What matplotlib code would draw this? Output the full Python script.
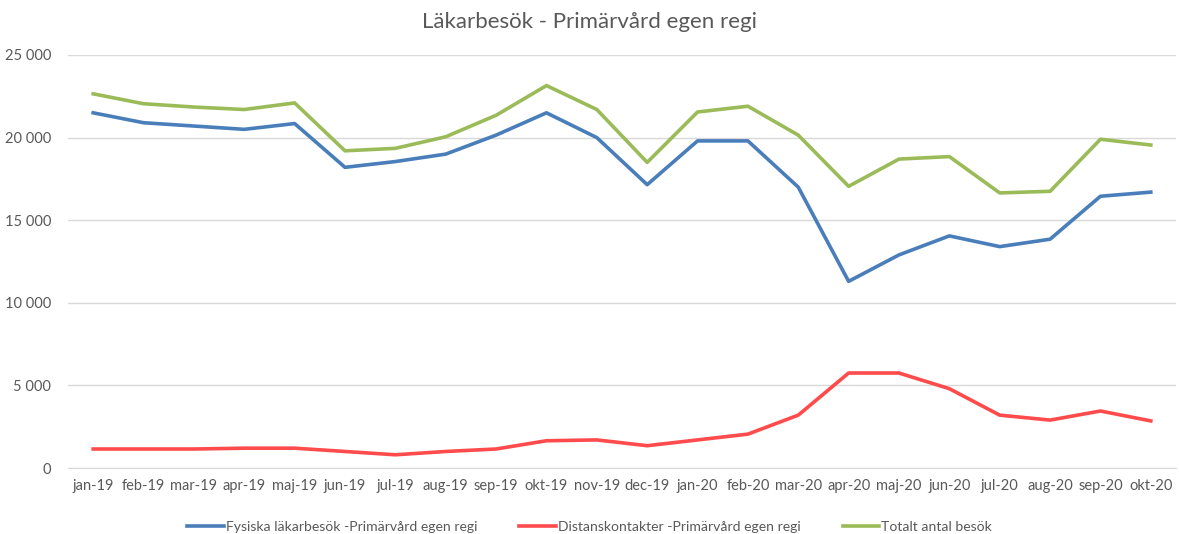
import matplotlib.pyplot as plt
from matplotlib.ticker import FuncFormatter

months = ["jan-19", "feb-19", "mar-19", "apr-19", "maj-19", "jun-19", "jul-19",
          "aug-19", "sep-19", "okt-19", "nov-19", "dec-19", "jan-20", "feb-20",
          "mar-20", "apr-20", "maj-20", "jun-20", "jul-20", "aug-20", "sep-20",
          "okt-20"]

fysiska = [21500, 20900, 20700, 20500, 20850, 18200, 18550, 19000, 20150, 21500,
           20000, 17150, 19800, 19800, 17000, 11300, 12900, 14050, 13400, 13850,
           16450, 16700]
distans = [1150, 1150, 1150, 1200, 1200, 1000, 800, 1000, 1150, 1650,
           1700, 1350, 1700, 2050, 3200, 5750, 5750, 4800, 3200, 2900,
           3450, 2850]
totalt = [22650, 22050, 21850, 21700, 22100, 19200, 19350, 20050, 21350, 23150,
          21700, 18500, 21550, 21900, 20150, 17050, 18700, 18850, 16650, 16750,
          19900, 19550]

plt.rcParams["font.family"] = ["Lato", "DejaVu Sans"]
grey = "#595959"

fig = plt.figure(figsize=(11.79, 5.34), dpi=100)
ax = fig.add_axes([68 / 1179, 1 - 468 / 534, (1176 - 68) / 1179, (468 - 55) / 534])

x = list(range(len(months)))
ax.plot(x, fysiska, color="#4A7EBB", lw=2.6, label="Fysiska läkarbesök -Primärvård egen regi")
ax.plot(x, distans, color="#FF4B4B", lw=2.6, label="Distanskontakter -Primärvård egen regi")
ax.plot(x, totalt, color="#9BBB59", lw=2.6, label="Totalt antal besök")

ax.set_xlim(-0.5, len(months) - 0.5)
ax.set_ylim(0, 25000)
ax.set_yticks(range(0, 25001, 5000))
ax.yaxis.set_major_formatter(FuncFormatter(lambda v, p: f"{int(v):,}".replace(",", " ")))
ax.set_xticks(x)
ax.set_xticklabels(months)
ax.grid(axis="y", color="#D9D9D9", lw=1)
ax.set_axisbelow(True)
for s in ["top", "right", "left"]:
    ax.spines[s].set_visible(False)
ax.spines["bottom"].set_color("#D9D9D9")
ax.tick_params(axis="both", length=0, colors=grey, labelsize=10.5)
ax.tick_params(axis="x", pad=8)
ax.tick_params(axis="y", pad=12)

fig.suptitle("Läkarbesök - Primärvård egen regi", x=0.5, y=0.978, va="top",
             fontsize=16, color=grey)

fig.legend(loc="center", bbox_to_anchor=(0.5, 1 - 527 / 534), ncol=3, frameon=False,
           fontsize=10.1, labelcolor=grey, columnspacing=3.0, handlelength=2.6,
           handletextpad=0.15, borderpad=0)

fig.savefig("out.png", dpi=100)
